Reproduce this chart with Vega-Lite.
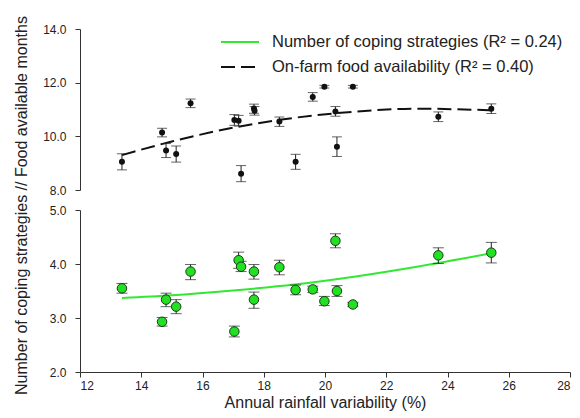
{
  "$schema": "https://vega.github.io/schema/vega-lite/v6.json",
  "background": "white",
  "padding": {"left": 12, "top": 15, "right": 3, "bottom": 2},
  "spacing": 20,
  "bounds": "flush",
  "config": {
    "font": "Liberation Sans",
    "view": {"stroke": null},
    "axis": {"grid": false, "domainColor": "#333333", "tickColor": "#333333", "labelColor": "#222222", "labelFontSize": 12, "titleFontSize": 16, "titleFontWeight": "normal", "titleColor": "#222222", "tickSize": 5, "labelFont": "Liberation Sans", "titleFont": "Liberation Sans"},
    "legend": {"labelFont": "Liberation Sans", "labelFontSize": 16.5, "labelColor": "#222222", "labelLimit": 0}
  },
  "datasets": {
    "food": [
      {"x": 13.37, "y": 9.05, "lo": 8.75, "hi": 9.35},
      {"x": 14.68, "y": 10.14, "lo": 9.98, "hi": 10.30},
      {"x": 14.81, "y": 9.47, "lo": 9.21, "hi": 9.73},
      {"x": 15.14, "y": 9.34, "lo": 9.04, "hi": 9.64},
      {"x": 15.61, "y": 11.23, "lo": 11.07, "hi": 11.39},
      {"x": 17.04, "y": 10.61, "lo": 10.41, "hi": 10.81},
      {"x": 17.18, "y": 10.58, "lo": 10.38, "hi": 10.78},
      {"x": 17.26, "y": 8.61, "lo": 8.31, "hi": 8.91},
      {"x": 17.68, "y": 11.04, "lo": 10.86, "hi": 11.20},
      {"x": 17.70, "y": 10.95, "lo": 10.79, "hi": 11.11},
      {"x": 18.51, "y": 10.55, "lo": 10.37, "hi": 10.72},
      {"x": 19.04, "y": 9.05, "lo": 8.77, "hi": 9.33},
      {"x": 19.60, "y": 11.47, "lo": 11.31, "hi": 11.63},
      {"x": 19.98, "y": 11.85, "lo": 11.80, "hi": 11.90},
      {"x": 20.34, "y": 10.93, "lo": 10.75, "hi": 11.11},
      {"x": 20.39, "y": 9.61, "lo": 9.25, "hi": 9.98},
      {"x": 20.91, "y": 11.85, "lo": 11.80, "hi": 11.90},
      {"x": 23.70, "y": 10.73, "lo": 10.55, "hi": 10.91},
      {"x": 25.43, "y": 11.03, "lo": 10.85, "hi": 11.21}
    ],
    "coping": [
      {"x": 13.37, "y": 3.55, "lo": 3.46, "hi": 3.64},
      {"x": 14.68, "y": 2.93, "lo": 2.85, "hi": 3.01},
      {"x": 14.81, "y": 3.34, "lo": 3.21, "hi": 3.46},
      {"x": 15.14, "y": 3.21, "lo": 3.08, "hi": 3.34},
      {"x": 15.61, "y": 3.86, "lo": 3.71, "hi": 3.99},
      {"x": 17.04, "y": 2.75, "lo": 2.65, "hi": 2.85},
      {"x": 17.18, "y": 4.07, "lo": 3.92, "hi": 4.22},
      {"x": 17.26, "y": 3.95, "lo": 3.86, "hi": 4.05},
      {"x": 17.68, "y": 3.86, "lo": 3.72, "hi": 3.99},
      {"x": 17.68, "y": 3.34, "lo": 3.18, "hi": 3.48},
      {"x": 18.51, "y": 3.94, "lo": 3.80, "hi": 4.07},
      {"x": 19.04, "y": 3.52, "lo": 3.43, "hi": 3.61},
      {"x": 19.60, "y": 3.53, "lo": 3.47, "hi": 3.59},
      {"x": 19.98, "y": 3.31, "lo": 3.23, "hi": 3.40},
      {"x": 20.34, "y": 4.43, "lo": 4.30, "hi": 4.56},
      {"x": 20.39, "y": 3.50, "lo": 3.40, "hi": 3.60},
      {"x": 20.91, "y": 3.25, "lo": 3.21, "hi": 3.29},
      {"x": 23.70, "y": 4.16, "lo": 4.01, "hi": 4.30},
      {"x": 25.43, "y": 4.21, "lo": 4.02, "hi": 4.40}
    ],
    "foodfit": [
      {"x": 13.37, "y": 9.30, "series": "On-farm food availability (R² = 0.40)"},
      {"x": 15.0, "y": 9.81, "series": "On-farm food availability (R² = 0.40)"},
      {"x": 17.0, "y": 10.32, "series": "On-farm food availability (R² = 0.40)"},
      {"x": 19.0, "y": 10.69, "series": "On-farm food availability (R² = 0.40)"},
      {"x": 21.0, "y": 10.92, "series": "On-farm food availability (R² = 0.40)"},
      {"x": 23.0, "y": 11.03, "series": "On-farm food availability (R² = 0.40)"},
      {"x": 25.43, "y": 10.97, "series": "On-farm food availability (R² = 0.40)"}
    ],
    "copfit": [
      {"x": 13.37, "y": 3.37},
      {"x": 15.0, "y": 3.42},
      {"x": 17.0, "y": 3.51},
      {"x": 19.0, "y": 3.62},
      {"x": 21.0, "y": 3.77},
      {"x": 23.0, "y": 3.95},
      {"x": 25.43, "y": 4.20}
    ]
  },
  "vconcat": [
    {
      "width": 490,
      "height": 161,
      "layer": [
        {
          "data": {"name": "foodfit"},
          "mark": {"type": "line", "strokeWidth": 2, "interpolate": "monotone"},
          "encoding": {
            "x": {"field": "x", "type": "quantitative", "scale": {"domain": [12, 28]}, "axis": null},
            "y": {"field": "y", "type": "quantitative", "scale": {"domain": [8, 14]},
              "axis": {"values": [8, 10, 12, 14], "format": ".1f", "labelPadding": 9, "title": "Number of coping strategies // Food available months", "titleX": -51, "titleY": 176, "titleBaseline": "bottom", "titleAnchor": "middle"}},
            "color": {"field": "series", "type": "nominal",
              "scale": {"domain": ["Number of coping strategies (R² = 0.24)", "On-farm food availability (R² = 0.40)"], "range": ["#33e833", "#111111"]},
              "legend": {"title": null, "orient": "none", "legendX": 149, "legendY": 2, "symbolType": "M-1.9,0L1.9,0", "symbolSize": 400, "symbolStrokeWidth": 2, "labelOffset": 21, "rowPadding": 5, "padding": 0}},
            "strokeDash": {"field": "series", "type": "nominal",
              "scale": {"domain": ["Number of coping strategies (R² = 0.24)", "On-farm food availability (R² = 0.40)"], "range": [[1, 0], [14, 6]]},
              "legend": null}
          }
        },
        {
          "data": {"name": "food"},
          "mark": {"type": "rule", "color": "#222222", "strokeWidth": 1},
          "encoding": {
            "x": {"field": "x", "type": "quantitative"},
            "y": {"field": "lo", "type": "quantitative"},
            "y2": {"field": "hi"}
          }
        },
        {
          "data": {"name": "food"},
          "mark": {"type": "tick", "orient": "horizontal", "color": "#222222", "size": 10, "thickness": 1},
          "encoding": {
            "x": {"field": "x", "type": "quantitative"},
            "y": {"field": "lo", "type": "quantitative"}
          }
        },
        {
          "data": {"name": "food"},
          "mark": {"type": "tick", "orient": "horizontal", "color": "#222222", "size": 10, "thickness": 1},
          "encoding": {
            "x": {"field": "x", "type": "quantitative"},
            "y": {"field": "hi", "type": "quantitative"}
          }
        },
        {
          "data": {"name": "food"},
          "mark": {"type": "point", "filled": true, "shape": "circle", "color": "#111111", "size": 36, "opacity": 1},
          "encoding": {
            "x": {"field": "x", "type": "quantitative"},
            "y": {"field": "y", "type": "quantitative"}
          }
        },
        {
          "mark": {"type": "rule", "color": "#333333"},
          "encoding": {"x": {"datum": 28}}
        }
      ]
    },
    {
      "width": 490,
      "height": 162,
      "layer": [
        {
          "data": {"name": "copfit"},
          "mark": {"type": "line", "strokeWidth": 2, "color": "#33e833", "interpolate": "monotone"},
          "encoding": {
            "x": {"field": "x", "type": "quantitative", "scale": {"domain": [12, 28]},
              "axis": {"values": [12, 14, 16, 18, 20, 22, 24, 26, 28], "title": "Annual rainfall variability (%)", "titlePadding": 3, "labelPadding": 3}},
            "y": {"field": "y", "type": "quantitative", "scale": {"domain": [2, 5]},
              "axis": {"values": [2, 2.5, 3, 3.5, 4, 4.5, 5], "format": ".1f", "labelPadding": 9, "title": null}}
          }
        },
        {
          "data": {"name": "coping"},
          "mark": {"type": "rule", "color": "#222222", "strokeWidth": 1},
          "encoding": {
            "x": {"field": "x", "type": "quantitative"},
            "y": {"field": "lo", "type": "quantitative"},
            "y2": {"field": "hi"}
          }
        },
        {
          "data": {"name": "coping"},
          "mark": {"type": "tick", "orient": "horizontal", "color": "#222222", "size": 11, "thickness": 1},
          "encoding": {
            "x": {"field": "x", "type": "quantitative"},
            "y": {"field": "lo", "type": "quantitative"}
          }
        },
        {
          "data": {"name": "coping"},
          "mark": {"type": "tick", "orient": "horizontal", "color": "#222222", "size": 11, "thickness": 1},
          "encoding": {
            "x": {"field": "x", "type": "quantitative"},
            "y": {"field": "hi", "type": "quantitative"}
          }
        },
        {
          "data": {"name": "coping"},
          "mark": {"type": "point", "filled": true, "shape": "circle", "fill": "#22e022", "stroke": "#1a3a1a", "strokeWidth": 1, "size": 90, "opacity": 1},
          "encoding": {
            "x": {"field": "x", "type": "quantitative"},
            "y": {"field": "y", "type": "quantitative"}
          }
        },
        {
          "mark": {"type": "rule", "color": "#333333"},
          "encoding": {"x": {"datum": 28}}
        }
      ]
    }
  ]
}
